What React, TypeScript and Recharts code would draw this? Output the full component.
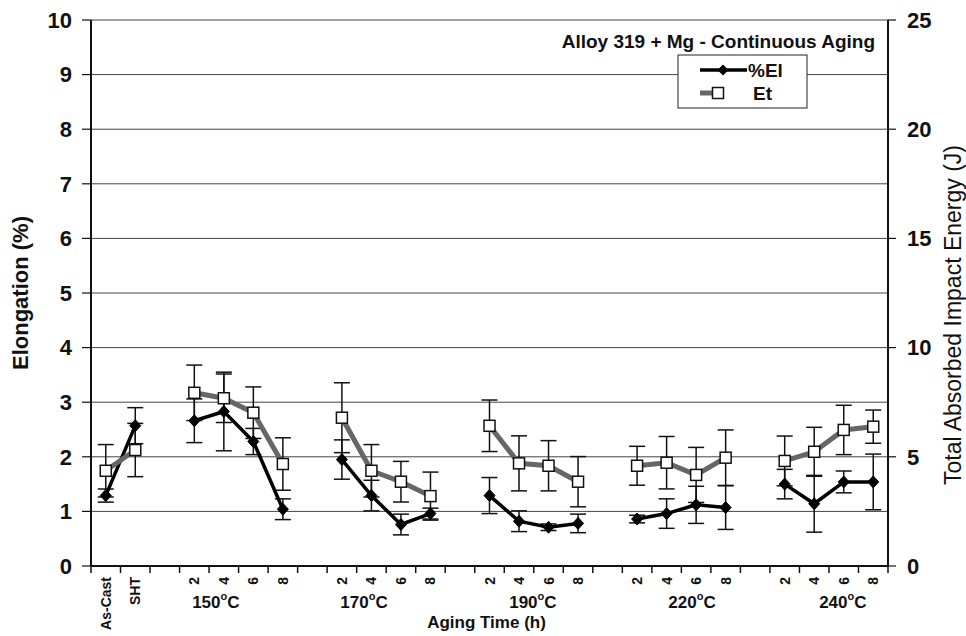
import React from "react";
import { LineChart, Line, XAxis, YAxis, CartesianGrid, ErrorBar, Legend } from "recharts";

// x categories (blank slots separate the aging temperatures)
const categories = [
  "As-Cast", "SHT", "",
  "2", "4", "6", "8", "",
  "2", "4", "6", "8", "",
  "2", "4", "6", "8", "",
  "2", "4", "6", "8", "",
  "2", "4", "6", "8",
];

// %El, elongation (%) - left axis
const elongation = [
  1.29, 2.57, null,
  2.66, 2.83, 2.28, 1.04, null,
  1.95, 1.29, 0.76, 0.96, null,
  1.29, 0.82, 0.71, 0.78, null,
  0.86, 0.96, 1.12, 1.07, null,
  1.5, 1.14, 1.54, 1.54,
];
const elongationErr = [
  0.12, 0.33, null,
  0.4, 0.72, 0.24, 0.19, null,
  0.36, 0.28, 0.19, 0.1, null,
  0.33, 0.19, 0.06, 0.17, null,
  0.07, 0.27, 0.34, 0.4, null,
  0.27, 0.52, 0.2, 0.51,
];

// Et, total absorbed impact energy (J) - right axis
const energy = [
  4.36, 5.31, null,
  7.93, 7.68, 7.02, 4.67, null,
  6.79, 4.36, 3.86, 3.2, null,
  6.42, 4.7, 4.59, 3.86, null,
  4.59, 4.73, 4.17, 4.96, null,
  4.81, 5.23, 6.23, 6.38,
];
const energyErr = [
  1.2, 1.22, null,
  1.27, 1.11, 1.18, 1.2, null,
  1.6, 1.2, 0.93, 1.1, null,
  1.18, 1.26, 1.15, 1.15, null,
  0.89, 1.2, 1.26, 1.27, null,
  1.14, 1.12, 1.13, 0.76,
];

const groupTemps = ["150", "170", "190", "220", "240"];
const groupLabelPos = [4.23, 9.25, 14.97, 20.36, 25.47];

const leftTicks = [0, 1, 2, 3, 4, 5, 6, 7, 8, 9, 10];
const rightTicks = [0, 5, 10, 15, 20, 25];

const FONT = "'Liberation Sans', Arial, sans-serif";

const data = categories.map((cat, i) => ({
  x: i + 0.5,
  cat,
  el: elongation[i],
  elErr: elongationErr[i],
  et: energy[i],
  etErr: energyErr[i],
}));

const boundaryTicks = categories.map((_, i) => i).concat([categories.length]);
const centerTicks = categories.map((c, i) => (c ? i + 0.5 : null)).filter((v) => v !== null) as number[];
const xTicks = [...boundaryTicks, ...centerTicks, ...groupLabelPos].sort((a, b) => a - b);

const XTick = (props: any) => {
  const { x, y, payload } = props;
  const v = payload.value;
  if (Number.isInteger(v)) {
    return <line x1={x} x2={x} y1={y} y2={y + 7} stroke="#111" strokeWidth={1.5} />;
  }
  const gi = groupLabelPos.indexOf(v);
  if (gi >= 0) {
    return (
      <text x={x} y={y + 42} textAnchor="middle" fontFamily={FONT} fontWeight="bold" fontSize={17} fill="#111">
        {groupTemps[gi]}
        <tspan dy={-8} fontSize={11}>o</tspan>
        <tspan dy={8}>C</tspan>
      </text>
    );
  }
  const label = categories[Math.floor(v)];
  const tx = x + 5;
  const ty = y + 11;
  return (
    <text
      x={tx}
      y={ty}
      transform={`rotate(-90 ${tx} ${ty})`}
      textAnchor="end"
      fontFamily={FONT}
      fontWeight="bold"
      fontSize={14}
      fill="#111"
    >
      {label}
    </text>
  );
};

const Diamond = (props: any) => {
  const { cx, cy, index } = props;
  if (cx == null || cy == null || Number.isNaN(cy)) return <g key={`d-${index}`} />;
  return (
    <polygon
      key={`d-${index}`}
      points={`${cx},${cy - 6} ${cx + 5.5},${cy} ${cx},${cy + 6} ${cx - 5.5},${cy}`}
      fill="#000"
      stroke="#000"
    />
  );
};

const Square = (props: any) => {
  const { cx, cy, index } = props;
  if (cx == null || cy == null || Number.isNaN(cy)) return <g key={`s-${index}`} />;
  return <rect key={`s-${index}`} x={cx - 5.5} y={cy - 5.5} width={11} height={11} fill="#fff" stroke="#111" strokeWidth={1.5} />;
};

const LeftTitle = (props: any) => {
  const { viewBox } = props;
  const cy = viewBox.y + viewBox.height / 2;
  return (
    <text x={28} y={cy} transform={`rotate(-90 28 ${cy})`} textAnchor="middle" fontFamily={FONT} fontWeight="bold" fontSize={22} fill="#111">
      Elongation (%)
    </text>
  );
};

const RightTitle = (props: any) => {
  const { viewBox } = props;
  const cy = viewBox.y + viewBox.height / 2 + 22;
  return (
    <text x={961} y={cy} transform={`rotate(-90 961 ${cy})`} textAnchor="middle" fontFamily={FONT} fontSize={23} fill="#111">
      Total Absorbed Impact Energy (J)
    </text>
  );
};

const BottomTitle = (props: any) => {
  const { viewBox } = props;
  return (
    <text x={viewBox.x + viewBox.width / 2 - 3} y={628} textAnchor="middle" fontFamily={FONT} fontWeight="bold" fontSize={17} fill="#111">
      Aging Time (h)
    </text>
  );
};

const LegendBox = () => (
  <svg width={966} height={120} style={{ display: "block" }}>
    <text x={875} y={48} textAnchor="end" fontFamily={FONT} fontWeight="bold" fontSize={19} fill="#111">
      Alloy 319 + Mg - Continuous Aging
    </text>
    <rect x={678} y={55} width={129} height={53} fill="#fff" stroke="#222" strokeWidth={1} />
    <line x1={700} x2={747} y1={70} y2={70} stroke="#000" strokeWidth={3.5} />
    <polygon points="723,64.5 728.5,70 723,75.5 717.5,70" fill="#000" />
    <text x={748} y={77} fontFamily={FONT} fontWeight="bold" fontSize={19} fill="#111">%El</text>
    <line x1={700} x2={713} y1={93} y2={93} stroke="#666" strokeWidth={5} />
    <rect x={712.5} y={87.5} width={11} height={11} fill="#fff" stroke="#111" strokeWidth={1.5} />
    <text x={753} y={100} fontFamily={FONT} fontWeight="bold" fontSize={19} fill="#111">Et</text>
  </svg>
);

export default function App() {
  return (
    <div style={{ width: 966, height: 636, background: "#fff" }}>
      <style>{`body{margin:0;background:#fff}`}</style>
      <LineChart width={966} height={636} data={data} margin={{ top: 20, right: 0, left: 0, bottom: 0 }}>
        <CartesianGrid yAxisId="left" vertical={false} stroke="#444" strokeWidth={1} />
        <XAxis
          dataKey="x"
          type="number"
          domain={[0, categories.length]}
          ticks={xTicks}
          interval={0}
          tickLine={false}
          tickSize={0}
          tickMargin={0}
          tick={<XTick />}
          height={70}
          axisLine={{ stroke: "#111", strokeWidth: 2 }}
          label={<BottomTitle />}
        />
        <YAxis
          yAxisId="left"
          domain={[0, 10]}
          ticks={leftTicks}
          interval={0}
          width={91}
          tickSize={9}
          tickMargin={10}
          axisLine={{ stroke: "#111", strokeWidth: 2 }}
          tickLine={{ stroke: "#111", strokeWidth: 1.2 }}
          tick={{ fontFamily: FONT, fontWeight: "bold", fontSize: 22, fill: "#111" }}
          label={<LeftTitle />}
        />
        <YAxis
          yAxisId="right"
          orientation="right"
          domain={[0, 25]}
          ticks={rightTicks}
          interval={0}
          width={78}
          tickSize={8}
          tickMargin={11}
          axisLine={{ stroke: "#111", strokeWidth: 2 }}
          tickLine={{ stroke: "#111", strokeWidth: 1.2 }}
          tick={{ fontFamily: FONT, fontWeight: "bold", fontSize: 22, fill: "#111" }}
          label={<RightTitle />}
        />
        <Legend
          verticalAlign="middle"
          align="center"
          layout="horizontal"
          content={<LegendBox />}
          wrapperStyle={{ position: "absolute", top: 0, left: 0, width: 966, height: 120, pointerEvents: "none" }}
        />
        <Line
          yAxisId="left"
          dataKey="el"
          name="%El"
          stroke="#000"
          strokeWidth={3.5}
          dot={<Diamond />}
          activeDot={false}
          connectNulls={false}
          isAnimationActive={false}
        >
          <ErrorBar dataKey="elErr" width={8} stroke="#111" strokeWidth={1.5} direction="y" />
        </Line>
        <Line
          yAxisId="right"
          dataKey="et"
          name="Et"
          stroke="#666"
          strokeWidth={5}
          dot={<Square />}
          activeDot={false}
          connectNulls={false}
          isAnimationActive={false}
        >
          <ErrorBar dataKey="etErr" width={8} stroke="#111" strokeWidth={1.5} direction="y" />
        </Line>
      </LineChart>
    </div>
  );
}
